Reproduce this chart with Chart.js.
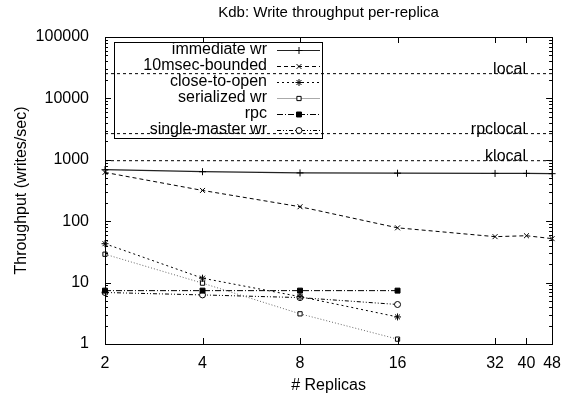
<!DOCTYPE html>
<html>
<head>
<meta charset="utf-8">
<script src="https://cdn.jsdelivr.net/npm/chart.js@4.4.1/dist/chart.umd.min.js"></script>
<style>
  html, body { margin: 0; padding: 0; background: #fff; }
  #wrap { width: 563px; height: 395px; position: relative; }
</style>
</head>
<body>
<div id="wrap"><canvas id="c" width="563" height="395"></canvas></div>
<script>
// ---- data ----
const chartTitle = 'Kdb: Write throughput per-replica';
const xTitle = '# Replicas';
const yTitle = 'Throughput (writes/sec)';
const replicas = [2, 4, 8, 16, 32, 40, 48];
const replicasShort = [2, 4, 8, 16];
const xTickValues = [2, 4, 8, 16, 32, 40, 48];
const yTickValues = [1, 10, 100, 1000, 10000, 100000];
const seriesNames = ['immediate wr', '10msec-bounded', 'close-to-open', 'serialized wr', 'rpc', 'single-master wr'];
const immediateWr = [690, 640, 612, 605, 600, 600, 595];
const msec10Bounded = [623, 317, 172, 78, 56, 58, 52];
const closeToOpen = [43, 11.8, 5.9, 2.76];
const serializedWr = [29, 9.8, 3.1, 1.2];
const rpcValues = [7.4, 7.4, 7.4, 7.4];
const singleMasterWr = [6.9, 6.3, 5.7, 4.4];
const refNames = ['local', 'rpclocal', 'klocal'];
const refValues = [25300, 2670, 967];

// ---- helpers ----
const pts = (xs, ys) => xs.map((x, i) => ({ x: x, y: ys[i] }));
const FONT = '"Liberation Sans", Arial, Helvetica, sans-serif';
const FS = 16;

const styles = [
  { color: '#222', dash: [], width: 1.2, pointStyle: 'cross', bg: '#222', legendColor: '#222', r: 3.5 },
  { color: '#000', dash: [4, 3], width: 1, pointStyle: 'crossRot', bg: '#000', legendColor: '#000', r: 3.5 },
  { color: '#000', dash: [2, 3], width: 1, pointStyle: 'star', bg: '#000', legendColor: '#000', r: 3.5 },
  { color: '#666', dash: [1, 2], width: 1, pointStyle: 'rect', bg: '#fff', legendColor: '#aaa', legendDash: [], r: 3 },
  { color: '#000', dash: [6, 2, 1, 2], width: 1, pointStyle: 'rect', bg: '#000', legendColor: '#000', r: 3.5 },
  { color: '#000', dash: [4, 2, 1, 2, 1, 2], width: 1, pointStyle: 'circle', bg: '#fff', legendColor: '#000', r: 3 }
];
const seriesData = [
  pts(replicas, immediateWr),
  pts(replicas, msec10Bounded),
  pts(replicasShort, closeToOpen),
  pts(replicasShort, serializedWr),
  pts(replicasShort, rpcValues),
  pts(replicasShort, singleMasterWr)
];

const datasets = [];
refNames.forEach((n, i) => {
  datasets.push({
    label: n,
    data: [{ x: xTickValues[0], y: refValues[i] }, { x: xTickValues[xTickValues.length - 1], y: refValues[i] }],
    borderColor: '#000', borderWidth: 1, borderDash: [3, 3], pointRadius: 0
  });
});
seriesNames.forEach((n, i) => {
  const s = styles[i];
  datasets.push({
    label: n,
    data: seriesData[i],
    borderColor: s.color, borderWidth: s.width, borderDash: s.dash,
    pointStyle: s.pointStyle, pointRadius: s.r,
    pointBorderColor: '#000', pointBackgroundColor: s.bg, pointBorderWidth: 1,
    clip: 6, tension: 0
  });
});

// ---- plugin: frame, ticks, title, ref labels, legend ----
const decor = {
  id: 'decor',
  afterDatasetsDraw(chart) {
    const ctx = chart.ctx;
    const a = chart.chartArea;
    const xs = chart.scales.x, ys = chart.scales.y;
    ctx.save();
    ctx.strokeStyle = '#000';
    ctx.lineWidth = 1;
    ctx.setLineDash([]);
    ctx.strokeRect(Math.round(a.left) + 0.5, Math.round(a.top) + 0.5, Math.round(a.right - a.left), Math.round(a.bottom - a.top));
    ctx.beginPath();
    xTickValues.forEach(v => {
      const px = Math.round(xs.getPixelForValue(v)) + 0.5;
      ctx.moveTo(px, a.bottom); ctx.lineTo(px, a.bottom - 6);
      ctx.moveTo(px, a.top); ctx.lineTo(px, a.top + 6);
    });
    for (let d = 0; d < yTickValues.length; d++) {
      const base = yTickValues[d];
      const py = Math.round(ys.getPixelForValue(base)) + 0.5;
      ctx.moveTo(a.left, py); ctx.lineTo(a.left + 6, py);
      ctx.moveTo(a.right, py); ctx.lineTo(a.right - 6, py);
      if (d < yTickValues.length - 1) {
        for (let m = 2; m <= 9; m++) {
          const pm = Math.round(ys.getPixelForValue(base * m)) + 0.5;
          ctx.moveTo(a.left, pm); ctx.lineTo(a.left + 3, pm);
          ctx.moveTo(a.right, pm); ctx.lineTo(a.right - 3, pm);
        }
      }
    }
    ctx.stroke();

    ctx.fillStyle = '#000';
    ctx.font = '15px ' + FONT;
    ctx.textAlign = 'center';
    ctx.textBaseline = 'middle';
    ctx.fillText(chartTitle, (a.left + a.right) / 2, 13);

    ctx.font = FS + 'px ' + FONT;
    ctx.textAlign = 'right';
    refNames.forEach((n, i) => {
      const py = ys.getPixelForValue(refValues[i]);
      ctx.fillText(n, 526, py - 4);
    });

    const lx = 114, ly = 42, lw = 208, rowH = 16;
    ctx.strokeStyle = '#000';
    ctx.lineWidth = 1;
    ctx.strokeRect(lx + 0.5, ly + 0.5, lw, rowH * seriesNames.length);
    seriesNames.forEach((n, i) => {
      const s = styles[i];
      const cy = ly + 8 + i * rowH;
      ctx.fillStyle = '#000';
      ctx.textAlign = 'right';
      ctx.fillText(n, 267, cy);
      ctx.beginPath();
      ctx.strokeStyle = s.legendColor;
      ctx.lineWidth = s.width;
      ctx.setLineDash(s.legendDash || s.dash);
      ctx.moveTo(277, Math.round(cy) + 0.5);
      ctx.lineTo(320, Math.round(cy) + 0.5);
      ctx.stroke();
      ctx.setLineDash([]);
      ctx.strokeStyle = '#000';
      ctx.fillStyle = s.bg;
      ctx.lineWidth = 1;
      Chart.helpers.drawPoint(ctx, { pointStyle: s.pointStyle, radius: s.r, rotation: 0, borderWidth: 1 }, 299, Math.round(cy) + 0.5);
    });
    ctx.restore();
  }
};

new Chart(document.getElementById('c'), {
  type: 'line',
  data: { datasets: datasets },
  plugins: [decor],
  options: {
    responsive: false,
    animation: false,
    devicePixelRatio: 1,
    layout: { padding: { top: 37, right: 8, left: 0, bottom: 0 } },
    plugins: { legend: { display: false }, tooltip: { enabled: false }, title: { display: false } },
    elements: { line: { fill: false } },
    scales: {
      x: {
        type: 'logarithmic', min: 2, max: 48,
        grid: { display: false }, border: { display: false },
        afterBuildTicks: s => { s.ticks = xTickValues.map(v => ({ value: v })); },
        afterFit: s => { s.height = 51; },
        ticks: { color: '#000', font: { family: FONT, size: FS }, padding: 2, autoSkip: false, maxRotation: 0,
                 callback: v => String(v) },
        title: { display: true, text: xTitle, color: '#000', font: { family: FONT, size: FS }, padding: { top: 2, bottom: 0 } }
      },
      y: {
        type: 'logarithmic', min: 1, max: 100000,
        grid: { display: false }, border: { display: false },
        afterBuildTicks: s => { s.ticks = yTickValues.map(v => ({ value: v })); },
        afterFit: s => { s.width = 105; },
        ticks: { color: '#000', font: { family: FONT, size: FS }, padding: 8, autoSkip: false,
                 callback: v => String(v) },
        title: { display: true, text: yTitle, color: '#000', font: { family: FONT, size: FS }, padding: { top: 12, bottom: 0 } }
      }
    }
  }
});
</script>
</body>
</html>
